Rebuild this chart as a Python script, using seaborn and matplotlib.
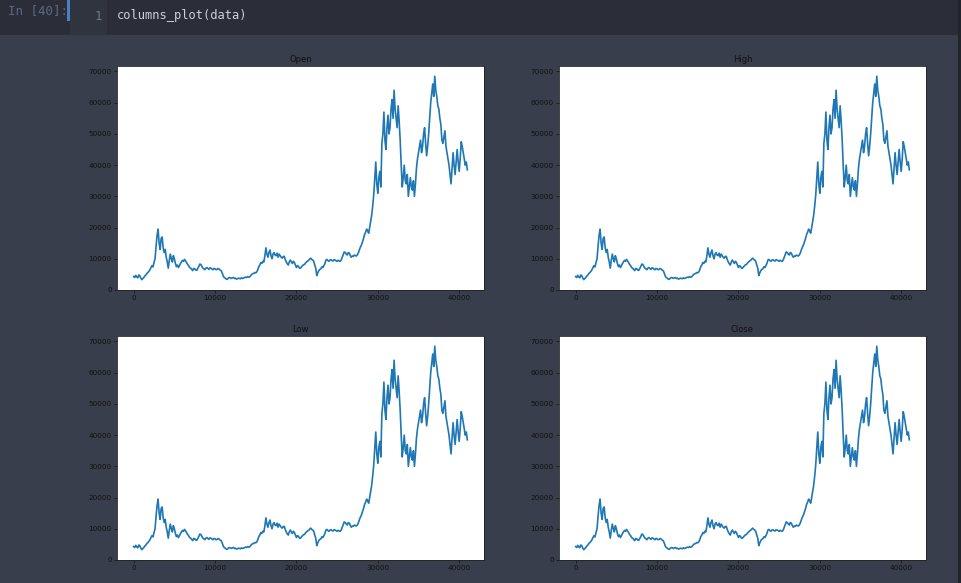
import matplotlib
matplotlib.use("Agg")
import matplotlib.pyplot as plt
import seaborn as sns
import pandas as pd
from matplotlib.patches import Rectangle

W, H = 962, 583

# row index of the price data (every 125 rows)
row_index = list(range(0, 41001, 125))

# prices (USD)
open_values = [
    4300, 4000, 4700, 4200, 3900, 4800, 4600, 3800, 3300, 3700, 4000, 4500, 4800, 5300, 5600, 6000,
    6500, 7200, 7800, 7400, 8800, 10000, 14000, 17500, 19500, 15000, 13000, 16500, 17000, 13500, 12000, 13000,
    10500, 9000, 7000, 9500, 11500, 10000, 9000, 11000, 10000, 8500, 7500, 8000, 7200, 7800, 8500, 9000,
    9500, 9200, 9800, 9300, 8800, 8200, 7800, 7200, 7000, 6600, 6200, 6900, 6800, 6400, 6300, 6900,
    7500, 8300, 8200, 7600, 7000, 6800, 6500, 7000, 7200, 6900, 6600, 7100, 7000, 6700, 6500, 6900,
    6800, 6500, 6600, 6900, 6700, 6400, 6200, 5500, 4500, 4000, 3800, 3500, 3400, 3800, 4000, 3900,
    3700, 3900, 4000, 3700, 3800, 3500, 3600, 3800, 3700, 3600, 3900, 3700, 3800, 4000, 4100, 4000,
    4300, 4100, 4200, 4600, 5000, 5200, 5300, 5600, 5500, 5800, 6500, 7500, 8000, 8800, 8500, 9200,
    9000, 11000, 13500, 11500, 10500, 12000, 12800, 11000, 10000, 11500, 12000, 11200, 11000, 11800, 10500, 11500,
    11000, 10500, 10200, 10700, 10800, 9800, 9000, 8400, 8000, 9000, 9600, 9000, 8500, 9200, 8800, 8000,
    7200, 7800, 7600, 7000, 7000, 7400, 7800, 8100, 8200, 8700, 9000, 9300, 9500, 9900, 10200, 9800,
    9600, 9200, 8000, 7000, 4600, 5500, 6200, 6600, 6800, 7400, 7200, 7800, 8500, 9600, 9800, 9400,
    9200, 9600, 9700, 9400, 9300, 9700, 9600, 9400, 9200, 9500, 9300, 9200, 9600, 10500, 11500, 12200,
    12000, 11500, 11200, 12000, 11800, 11000, 10500, 10900, 10800, 11200, 11000, 10900, 11300, 12000, 13000, 13800,
    14500, 15500, 16500, 17800, 18500, 19500, 19000, 18200, 20000, 22000, 24000, 27000, 30500, 36000, 41000, 34000,
    31000, 36000, 38000, 33000, 47000, 50000, 57000, 48000, 45000, 52000, 56000, 50000, 52000, 58000, 61000, 55000,
    64000, 58000, 55000, 52000, 59000, 54000, 48000, 40000, 33000, 36000, 40000, 35000, 34000, 37000, 30000, 33000,
    36000, 33000, 32000, 35000, 30000, 34000, 39000, 42000, 44000, 46000, 48000, 44000, 46000, 50000, 52000, 47000,
    43000, 46000, 50000, 55000, 60000, 63000, 66000, 62000, 68500, 64000, 62000, 59000, 58000, 55000, 53000, 48000,
    47000, 49000, 51000, 46000, 44000, 42000, 40000, 37000, 34000, 39000, 44000, 40000, 37000, 41000, 45000, 41000,
    38000, 42000, 47500, 46000, 44000, 42000, 40000, 41000, 38500,
]
# the other columns look the same at this resolution
high_values = list(open_values)
low_values = list(open_values)
close_values = list(open_values)

titles = ["Open", "High", "Low", "Close"]
series = [open_values, high_values, low_values, close_values]

fig = plt.figure(figsize=(W / 100, H / 100), dpi=100)
fig.patch.set_facecolor("#383e4b")

def px_rect(x0, y0, x1, y1, color):
    fig.patches.append(Rectangle((x0 / W, 1 - y1 / H), (x1 - x0) / W, (y1 - y0) / H,
                                 transform=fig.transFigure, facecolor=color,
                                 edgecolor="none", zorder=0))

# notebook top cell
px_rect(0, 0, W, 35, "#2b2e38")
px_rect(70, 0, 107, 35, "#30343f")
px_rect(67, 0, 70, 21, "#4a7fc1")
px_rect(958, 0, W, H, "#23252c")

fig.text(8 / W, 1 - 11 / H, "In [40]:", family="DejaVu Sans Mono", fontsize=9,
         color="#5d6780", va="center", ha="left")
fig.text(102 / W, 1 - 16 / H, "1", family="DejaVu Sans Mono", fontsize=8.7,
         color="#6c7890", va="center", ha="right")
fig.text(117 / W, 1 - 15 / H, "columns_plot(data)", family="DejaVu Sans Mono",
         fontsize=8.7, color="#c9d1dd", va="center", ha="left")

boxes = [(117, 66, 484, 290), (559, 66, 926, 290),
         (117, 336, 484, 560), (559, 336, 926, 560)]

for (l, t, r, b), title, vals in zip(boxes, titles, series):
    ax = fig.add_axes([l / W, 1 - b / H, (r - l) / W, (b - t) / H])
    ax.set_facecolor("white")
    df = pd.DataFrame({"row": row_index, "price": vals})
    sns.lineplot(data=df, x="row", y="price", ax=ax, color="#1f77b4", linewidth=1.2)
    ax.set_xlabel("")
    ax.set_ylabel("")
    ax.set_title(title, fontsize=6.0, color="#111111", pad=3)
    ax.set_xticks([0, 10000, 20000, 30000, 40000])
    ax.set_yticks([0, 10000, 20000, 30000, 40000, 50000, 60000, 70000])
    ax.tick_params(labelsize=5.2, length=2, width=0.5, pad=1.8, colors="#111111")
    for s in ax.spines.values():
        s.set_color("#222222")
        s.set_linewidth(0.6)
    ax.grid(False)

fig.savefig("out.png", dpi=100, facecolor=fig.get_facecolor())
